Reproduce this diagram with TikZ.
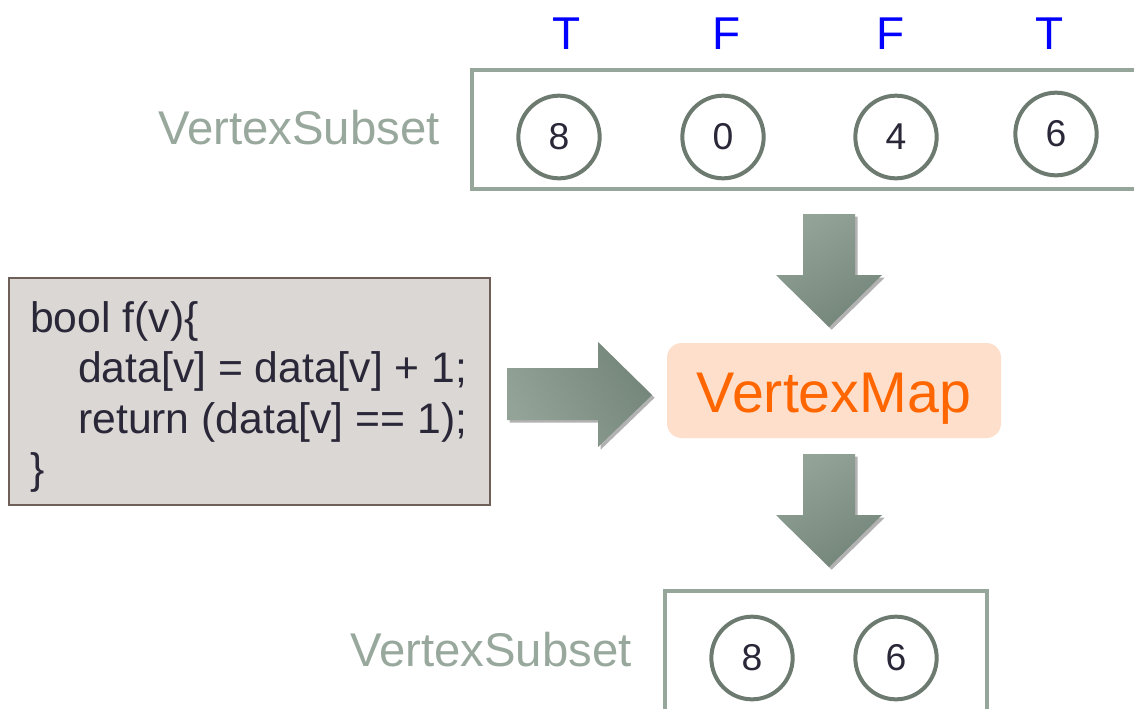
\documentclass[tikz,border=0pt]{standalone}
\usepackage{fontspec}
\setmainfont{Liberation Sans}
\usetikzlibrary{shapes.geometric,shadows}
\definecolor{boxline}{HTML}{97A69B}
\definecolor{circline}{HTML}{6D7A70}
\definecolor{digit}{HTML}{2A2838}
\definecolor{subsettext}{HTML}{98A89C}
\definecolor{codefill}{HTML}{DBD7D4}
\definecolor{codeline}{HTML}{6E5F58}
\definecolor{mapfill}{HTML}{FDDFCB}
\definecolor{maptext}{HTML}{FF6600}
\definecolor{arrowA}{HTML}{93A398}
\definecolor{arrowB}{HTML}{74857A}
\definecolor{tfblue}{HTML}{0000FF}
\tikzset{
  vcirc/.style={ellipse, draw=circline, line width=3pt, fill=white, minimum width=61pt, minimum height=62pt, inner sep=0pt, text=digit, font=\fontsize{28}{28}\selectfont},
  tflabel/.style={text=tfblue, font=\fontsize{34.5}{34.5}\selectfont, inner sep=0pt},
  subsetlabel/.style={text=subsettext, font=\fontsize{35.5}{35.5}\selectfont, inner sep=0pt},
  setbox/.style={draw=boxline, line width=3pt},
  codeline/.style={anchor=base west, inner sep=0pt, text=digit, font=\fontsize{32}{32}\selectfont},
  blockarrow/.style={top color=arrowA, bottom color=arrowB, shading angle=30, draw=none,
    drop shadow={shadow xshift=2pt, shadow yshift=-2pt, opacity=0.3, fill=black}},
}
\begin{document}
\begin{tikzpicture}[x=0.75pt,y=-0.75pt]
\path[use as bounding box, clip] (0,0) rectangle (1134,708);
\fill[white] (0,0) rectangle (1134,708);

% top vertex subset
\coordinate (tbr) at (1150,189);
\coordinate (ttr) at (1150,70);
\draw[setbox] (ttr) -- (472,70) -- (472,189) -- (tbr);
\node[subsetlabel] (tlab) at (299,128) {VertexSubset};
\node[vcirc] (c1) at (559,137) {8};
\node[vcirc] (c2) at (723,137) {0};
\node[vcirc] (c3) at (896,137) {4};
\node[vcirc] (c4) at (1056,134) {6};
\node[tflabel] (f1) at (567,33.5) {T};
\node[tflabel] (f2) at (727,33.5) {F};
\node[tflabel] (f3) at (891,33.5) {F};
\node[tflabel] (f4) at (1050,33.5) {T};

% code box
\node[draw=codeline, line width=1.5pt, fill=codefill, minimum width=360.75pt, minimum height=170.25pt, inner sep=0pt] (code) at (249.5,391.5) {};
\node[codeline] (l1) at (30,332) {bool f(v)\{};
\node[codeline] (l2) at (78,382) {data[v] = data[v] + 1;};
\node[codeline] (l3) at (78,433) {return (data[v] == 1);};
\node[codeline] (l4) at (30,483) {\}};

% vertex map
\node[rounded corners=11pt, fill=mapfill, minimum width=250.5pt, minimum height=71.25pt] (vm) at (834,390.5) {};
\node[anchor=base, inner sep=0pt, text=maptext, font=\fontsize{43}{43}\selectfont] (vmtext) at (834,412) {VertexMap};

% block arrows
\path[blockarrow] (803,214) -- (855,214) -- (855,275) -- (882,275) -- (829,327) -- (776,275) -- (803,275) -- cycle;
\path[blockarrow] (803,454) -- (855,454) -- (855,515) -- (882,515) -- (829,567) -- (776,515) -- (803,515) -- cycle;
\path[blockarrow, left color=arrowA, right color=arrowB, shading angle=120] (507,368) -- (598,368) -- (598,342) -- (652,395) -- (598,447) -- (598,420) -- (507,420) -- cycle;

% bottom vertex subset
\coordinate (bbl) at (665,720);
\coordinate (bbr) at (987,720);
\draw[setbox] (bbl) -- (665,591) -- (987,591) -- (bbr);
\node[subsetlabel] (blab) at (491,650) {VertexSubset};
\node[vcirc] (d1) at (752,658) {8};
\node[vcirc] (d2) at (896,658) {6};
\end{tikzpicture}
\end{document}
